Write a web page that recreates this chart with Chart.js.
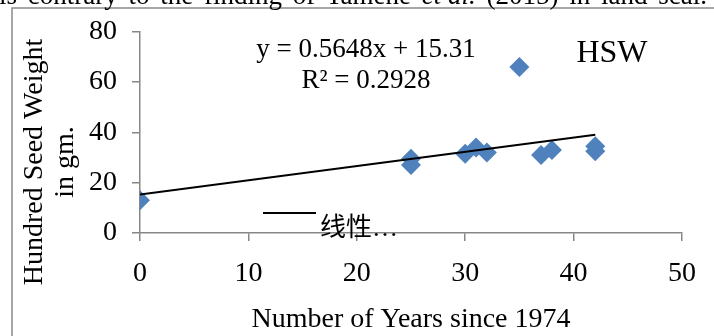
<!DOCTYPE html>
<html><head><meta charset="utf-8">
<script src="https://cdn.jsdelivr.net/npm/chart.js@4/dist/chart.umd.min.js"></script>
<style>html,body{margin:0;padding:0;background:#fff;overflow:hidden}</style>
</head><body>
<canvas id="c" width="714" height="336" style="display:block;width:714px;height:336px"></canvas>
<script>
// Data
const years = [0, 25, 25, 30, 31, 32, 35, 37, 38, 42, 42];
const hsw   = [13, 29.5, 27, 31.5, 34, 32, 66, 31, 33, 34.5, 32.5];
const xTicks = [0, 10, 20, 30, 40, 50];
const yTicks = [0, 20, 40, 60, 80];
const trendSlope = 0.5648;
const trendIntercept = 15.31;
const trendRange = [0, 42];
const seriesName = 'HSW';
const trendName = '线性…';
const xTitle = 'Number of Years since 1974';
const yTitle = ['Hundred Seed Weight', 'in gm.'];
const eqLines = ['y = 0.5648x + 15.31', 'R² = 0.2928'];
const aboveWords = ['is', 'contrary', 'to', 'the', 'finding', 'of', 'Tamene', 'et al.', '(2015)', 'in', 'land', 'scal.'];

const serif = '"Liberation Serif", "Times New Roman", serif';
const axisColor = '#878787';

const overlay = {
  id: 'overlay',
  afterDraw(chart) {
    const ctx = chart.ctx;
    ctx.save();
    // frame of the figure
    ctx.strokeStyle = '#8a8a8a';
    ctx.lineWidth = 1.5;
    ctx.beginPath();
    ctx.moveTo(12, 336); ctx.lineTo(12, 8); ctx.lineTo(714, 8);
    ctx.stroke();
    // cut-off justified text line above the figure
    ctx.fillStyle = '#000';
    ctx.textBaseline = 'alphabetic';
    ctx.textAlign = 'left';
    const fontFor = w => (w === 'et al.' ? 'italic ' : '') + '27px ' + serif;
    let total = 0;
    aboveWords.forEach(w => { ctx.font = fontFor(w); total += ctx.measureText(w).width; });
    const startX = -1, endX = 707;
    const gap = (endX - startX - total) / (aboveWords.length - 1);
    let x = startX;
    aboveWords.forEach(w => {
      ctx.font = fontFor(w);
      ctx.fillText(w, x, 4);
      x += ctx.measureText(w).width + gap;
    });
    // y axis title (two lines, rotated)
    ctx.font = '28px ' + serif;
    ctx.textAlign = 'center';
    [42, 73].forEach((bx, i) => {
      ctx.save();
      ctx.translate(bx, 162);
      ctx.rotate(-Math.PI / 2);
      ctx.fillText(yTitle[i], 0, 0);
      ctx.restore();
    });
    // regression equation
    ctx.font = '27px ' + serif;
    ctx.fillText(eqLines[0], 366, 57);
    ctx.fillText(eqLines[1], 366, 88);
    // series legend text
    ctx.font = '32px ' + serif;
    ctx.fillText(seriesName, 612, 62);
    // trendline legend
    ctx.strokeStyle = '#000';
    ctx.lineWidth = 2;
    ctx.beginPath(); ctx.moveTo(263, 213); ctx.lineTo(316, 213); ctx.stroke();
    ctx.textAlign = 'left';
    ctx.font = '26px "Liberation Serif", "Noto Sans CJK SC", sans-serif';
    ctx.fillText(trendName, 320, 236);
    ctx.restore();
  }
};

new Chart(document.getElementById('c'), {
  type: 'scatter',
  data: {
    datasets: [
      {
        type: 'line',
        label: trendName,
        data: trendRange.map(v => ({x: v, y: trendSlope * v + trendIntercept})),
        borderColor: '#000',
        borderWidth: 2,
        pointRadius: 0,
        fill: false,
        order: 0
      },
      {
        label: seriesName,
        data: years.map((v, i) => ({x: v, y: hsw[i]})),
        pointStyle: 'rectRot',
        pointRadius: 10,
        backgroundColor: '#4F81BD',
        borderColor: '#4F81BD',
        borderWidth: 0,
        order: 1
      }
    ]
  },
  options: {
    responsive: false,
    animation: false,
    devicePixelRatio: 1,
    layout: {padding: {left: 0, right: 32, top: 30, bottom: 0}},
    plugins: {legend: {display: false}, tooltip: {enabled: false}},
    scales: {
      x: {
        type: 'linear',
        min: 0, max: 50,
        afterBuildTicks: s => { s.ticks = xTicks.map(v => ({value: v})); },
        afterFit: s => { s.height = 103; },
        grid: {display: true, drawOnChartArea: false, drawTicks: true, tickLength: 8, color: axisColor, lineWidth: 1.5},
        border: {display: true, color: axisColor, width: 1.5},
        ticks: {color: '#000', font: {family: serif, size: 28}, padding: 16, maxRotation: 0},
        title: {display: true, text: xTitle, color: '#000', font: {family: serif, size: 28}, padding: {top: 0, bottom: 0}}
      },
      y: {
        type: 'linear',
        min: 0, max: 80,
        afterBuildTicks: s => { s.ticks = yTicks.map(v => ({value: v})); },
        afterFit: s => { s.width = 140; },
        grid: {display: true, drawOnChartArea: false, drawTicks: true, tickLength: 8, color: axisColor, lineWidth: 1.5},
        border: {display: true, color: axisColor, width: 1.5},
        ticks: {color: '#000', font: {family: serif, size: 28}, padding: 15}
      }
    }
  },
  plugins: [overlay]
});
</script>
</body></html>
